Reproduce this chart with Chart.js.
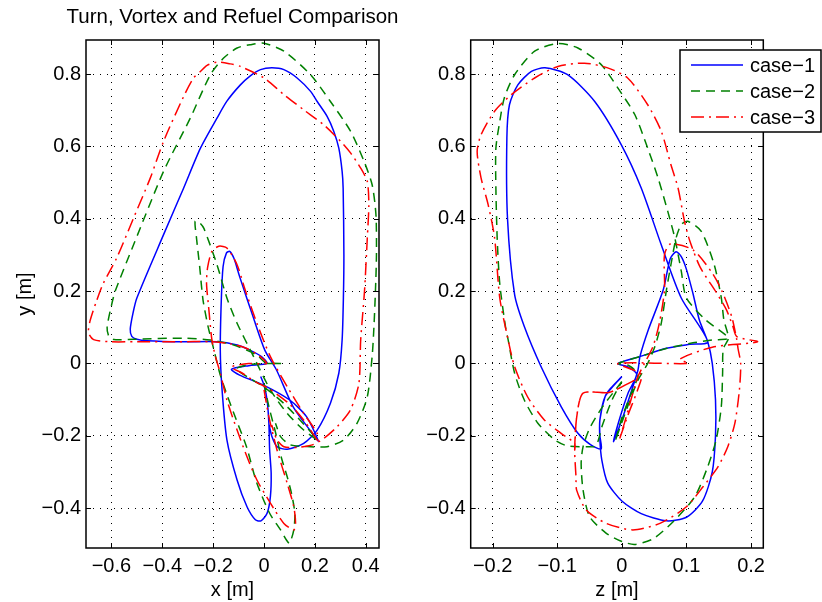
<!DOCTYPE html>
<html>
<head>
<meta charset="utf-8">
<script src="https://cdn.jsdelivr.net/npm/chart.js@4/dist/chart.umd.min.js"></script>
<style>
  html, body { margin: 0; padding: 0; background: #fff; }
  #wrap { position: relative; width: 822px; height: 602px; background: #fff; }
  canvas { position: absolute; top: 0; }
</style>
</head>
<body>
<div id="wrap">
  <canvas id="c1" width="465" height="602" style="left:0"></canvas>
  <canvas id="c2" width="411" height="602" style="left:411px"></canvas>
</div>
<script>
// ---------- tick labels ----------
const xTicks = [-0.6, -0.4, -0.2, 0, 0.2, 0.4];
const zTicks = [-0.2, -0.1, 0, 0.1, 0.2];
const yTicks = [-0.4, -0.2, 0, 0.2, 0.4, 0.6, 0.8];
const seriesNames = ['case\u22121', 'case\u22122', 'case\u22123'];

// ---------- case-1 : x-y panel ----------
const case1X = [-0.013,0.0,0.012,0.019,0.022,0.028,0.025,0.012,-0.012,-0.034,-0.067,-0.106,-0.146,-0.165,-0.172,-0.168,-0.161,-0.148,-0.135,-0.118,-0.096,-0.043,0.003,0.049,0.114,0.18,0.213,0.167,0.101,-0.004,-0.096,-0.128,-0.06,0.012,-0.01,-0.056,-0.106,-0.185,-0.316,-0.46,-0.5,-0.52,-0.526,-0.515,-0.5,-0.395,-0.316,-0.25,-0.185,-0.146,-0.093,-0.054,-0.014,0.031,0.078,0.13,0.183,0.209,0.248,0.274,0.294,0.307,0.311,0.314,0.312,0.307,0.294,0.261,0.209,0.156,0.091,0.051,0.031,0.02];
const case1Y = [-0.036,-0.06,-0.101,-0.165,-0.239,-0.303,-0.368,-0.414,-0.435,-0.432,-0.396,-0.322,-0.211,-0.073,0.037,0.176,0.268,0.305,0.31,0.29,0.24,0.129,0.037,-0.018,-0.119,-0.184,-0.214,-0.147,-0.101,-0.059,-0.032,-0.016,-0.006,0.0,0.019,0.037,0.051,0.06,0.06,0.063,0.067,0.075,0.095,0.14,0.181,0.356,0.485,0.595,0.678,0.725,0.77,0.795,0.812,0.817,0.812,0.789,0.752,0.724,0.683,0.642,0.595,0.531,0.485,0.3,0.181,0.065,-0.027,-0.11,-0.184,-0.221,-0.237,-0.23,-0.202,-0.17];
// ---------- case-1 : z-y panel ----------
const case1Z = [0.0,-0.018,-0.026,-0.034,-0.034,-0.031,-0.022,0.0,0.03,0.069,0.1,0.125,0.14,0.145,0.145,0.14,0.133,0.12,0.11,0.1,0.092,0.084,0.075,0.064,0.041,0.028,0.025,0.012,0.0,-0.013,-0.003,0.01,0.023,0.01,-0.006,0.028,0.069,0.105,0.133,0.092,0.061,0.03,-0.001,-0.042,-0.084,-0.119,-0.14,-0.161,-0.174,-0.178,-0.177,-0.166,-0.151,-0.125,-0.094,-0.068,-0.048,-0.032,-0.034,-0.034,-0.026,0.0];
const case1YZ = [-0.036,-0.07,-0.092,-0.156,-0.211,-0.267,-0.33,-0.38,-0.415,-0.435,-0.425,-0.38,-0.3,-0.2,-0.1,0.0,0.06,0.12,0.194,0.26,0.295,0.309,0.29,0.203,0.093,0.019,-0.018,-0.092,-0.156,-0.216,-0.15,-0.08,-0.03,-0.01,0.0,0.019,0.042,0.053,0.06,0.181,0.328,0.485,0.605,0.724,0.798,0.817,0.807,0.77,0.715,0.623,0.4,0.19,0.102,-0.009,-0.119,-0.193,-0.225,-0.236,-0.2,-0.156,-0.092,-0.036];

// ---------- case-2 : x-y panel ----------
const case2X = [0.0,0.019,0.045,0.068,0.091,0.108,0.121,0.117,0.1,0.088,0.065,0.022,-0.03,-0.069,-0.109,-0.148,-0.174,-0.2,-0.22,-0.24,-0.253,-0.266,-0.271,-0.255,-0.237,-0.185,-0.146,-0.106,-0.041,0.025,0.091,0.156,0.209,0.15,0.08,0.0,-0.07,-0.11,-0.05,0.068,0.005,-0.028,-0.119,-0.211,-0.316,-0.513,-0.59,-0.61,-0.617,-0.6,-0.585,-0.513,-0.395,-0.29,-0.211,-0.159,-0.106,-0.054,0.0,0.078,0.183,0.261,0.34,0.393,0.425,0.44,0.442,0.438,0.432,0.425,0.406,0.366,0.314,0.248,0.183,0.104,0.065,0.045];
const case2Y = [-0.055,-0.119,-0.19,-0.26,-0.313,-0.359,-0.414,-0.46,-0.497,-0.488,-0.46,-0.414,-0.327,-0.23,-0.156,-0.082,-0.027,0.046,0.102,0.176,0.267,0.35,0.393,0.39,0.374,0.273,0.181,0.111,0.019,-0.073,-0.138,-0.184,-0.211,-0.163,-0.112,-0.065,-0.035,-0.015,-0.002,0.0,0.003,0.023,0.051,0.065,0.07,0.067,0.066,0.075,0.1,0.16,0.2,0.328,0.531,0.678,0.798,0.844,0.872,0.881,0.885,0.863,0.798,0.724,0.642,0.559,0.494,0.411,0.3,0.2,0.1,0.019,-0.092,-0.165,-0.211,-0.23,-0.23,-0.225,-0.202,-0.165];
// ---------- case-2 : z-y panel ----------
const case2Z = [0.0,-0.03,-0.05,-0.06,-0.063,-0.06,-0.05,-0.025,0.0,0.02,0.048,0.079,0.113,0.133,0.146,0.154,0.156,0.157,0.165,0.158,0.154,0.143,0.123,0.102,0.092,0.084,0.076,0.069,0.061,0.051,0.04,0.025,0.009,-0.006,-0.01,0.0,0.015,0.025,0.01,-0.005,0.03,0.07,0.11,0.14,0.165,0.13,0.1,0.092,0.082,0.071,0.056,0.04,0.02,-0.006,-0.032,-0.068,-0.099,-0.135,-0.166,-0.182,-0.189,-0.195,-0.195,-0.193,-0.189,-0.18,-0.176,-0.166,-0.151,-0.13,-0.104,-0.084,-0.053,-0.04,-0.03,-0.015,0.0];
const case2YZ = [-0.05,-0.12,-0.18,-0.23,-0.276,-0.35,-0.423,-0.468,-0.492,-0.5,-0.485,-0.438,-0.368,-0.285,-0.211,-0.119,-0.027,0.04,0.07,0.12,0.181,0.273,0.365,0.393,0.384,0.347,0.273,0.203,0.111,0.046,0.0,-0.046,-0.119,-0.193,-0.215,-0.15,-0.08,-0.03,-0.005,0.0,0.02,0.042,0.057,0.065,0.07,0.12,0.181,0.255,0.347,0.421,0.513,0.595,0.688,0.761,0.826,0.872,0.884,0.863,0.798,0.734,0.669,0.595,0.485,0.347,0.22,0.1,0.065,-0.027,-0.101,-0.165,-0.211,-0.228,-0.23,-0.228,-0.17,-0.1,-0.05];

// ---------- case-3 : x-y panel ----------
const case3X = [0.0,0.019,0.051,0.091,0.117,0.124,0.117,0.078,0.025,-0.028,-0.067,-0.106,-0.146,-0.172,-0.191,-0.205,-0.218,-0.226,-0.222,-0.205,-0.178,-0.146,-0.106,-0.075,-0.028,0.025,0.091,0.156,0.209,0.21,0.16,0.1,0.02,-0.03,-0.09,-0.13,-0.06,0.01,-0.02,-0.07,-0.13,-0.2,-0.35,-0.5,-0.605,-0.67,-0.69,-0.685,-0.66,-0.633,-0.579,-0.513,-0.447,-0.395,-0.316,-0.277,-0.25,-0.224,-0.185,-0.132,-0.093,0.0,0.078,0.156,0.234,0.301,0.34,0.38,0.406,0.412,0.406,0.395,0.38,0.373,0.34,0.287,0.235,0.19,0.13,0.078,0.05,0.03];
const case3Y = [-0.073,-0.147,-0.239,-0.331,-0.396,-0.442,-0.46,-0.442,-0.386,-0.322,-0.258,-0.184,-0.101,-0.027,0.019,0.065,0.157,0.22,0.265,0.31,0.324,0.319,0.273,0.205,0.111,0.019,-0.064,-0.138,-0.193,-0.212,-0.16,-0.112,-0.07,-0.052,-0.025,-0.01,0.0,0.0,0.022,0.042,0.054,0.06,0.06,0.06,0.06,0.066,0.085,0.115,0.17,0.22,0.292,0.402,0.513,0.614,0.738,0.789,0.807,0.824,0.833,0.828,0.821,0.789,0.743,0.701,0.66,0.614,0.582,0.54,0.503,0.439,0.347,0.2,0.065,-0.055,-0.128,-0.175,-0.207,-0.225,-0.232,-0.23,-0.21,-0.17];
// ---------- case-3 : z-y panel ----------
const case3Z = [0.02,-0.02,-0.06,-0.07,-0.073,-0.071,-0.07,-0.055,-0.024,0.017,0.059,0.1,0.126,0.149,0.164,0.175,0.182,0.184,0.18,0.178,0.17,0.155,0.14,0.11,0.075,0.066,0.066,0.058,0.048,0.035,0.025,0.014,0.004,-0.004,0.01,0.025,0.03,-0.006,0.103,0.09,0.14,0.21,0.178,0.172,0.162,0.147,0.121,0.105,0.097,0.087,0.076,0.061,0.04,0.009,-0.022,-0.058,-0.099,-0.135,-0.171,-0.197,-0.218,-0.224,-0.218,-0.207,-0.197,-0.189,-0.176,-0.166,-0.146,-0.12,-0.094,-0.073,-0.073,-0.07,-0.06,-0.02,0.02];
const case3YZ = [-0.046,-0.08,-0.082,-0.15,-0.239,-0.313,-0.35,-0.405,-0.442,-0.46,-0.442,-0.396,-0.34,-0.285,-0.23,-0.165,-0.073,0.0,0.04,0.065,0.13,0.2,0.25,0.314,0.33,0.3,0.203,0.111,0.046,0.0,-0.036,-0.101,-0.165,-0.211,-0.14,-0.07,-0.03,0.0,0.0,0.012,0.045,0.06,0.074,0.102,0.148,0.194,0.267,0.34,0.393,0.485,0.549,0.642,0.715,0.789,0.817,0.83,0.821,0.789,0.743,0.697,0.632,0.586,0.513,0.439,0.347,0.181,0.065,-0.009,-0.092,-0.156,-0.193,-0.221,-0.239,-0.15,-0.082,-0.08,-0.046];

// ---------- helpers ----------
const FONT = '"Liberation Sans", Arial, Helvetica, sans-serif';
const styles = [
  { color: '#0000ff', dash: [], order: 3 },
  { color: '#008000', dash: [9, 6], order: 2 },
  { color: '#ff0000', dash: [13, 5, 2, 5], order: 1 }
];
function pts(xs, ys) { return xs.map((v, i) => ({ x: v, y: ys[i] })); }
function datasets(pairs) {
  return pairs.map((p, i) => ({
    label: seriesNames[i],
    data: pts(p[0], p[1]),
    showLine: true,
    borderColor: styles[i].color,
    backgroundColor: styles[i].color,
    borderDash: styles[i].dash,
    borderWidth: 1.5,
    pointRadius: 0,
    tension: 0.25,
    order: styles[i].order
  }));
}
const fmt = v => Math.abs(v) < 1e-9 ? '0' : (v < 0 ? '\u2212' : '') + Math.abs(v).toFixed(1);

const boxPlugin = {
  id: 'matlabBox',
  afterDatasetsDraw(chart) {
    const { ctx, chartArea: a, scales } = chart;
    ctx.save();
    ctx.setLineDash([]);
    ctx.strokeStyle = '#000';
    ctx.lineWidth = 1;
    const tl = 5;
    ctx.beginPath();
    scales.x.ticks.forEach(t => {
      const p = Math.round(scales.x.getPixelForValue(t.value)) + 0.5;
      ctx.moveTo(p, a.bottom); ctx.lineTo(p, a.bottom - tl);
      ctx.moveTo(p, a.top); ctx.lineTo(p, a.top + tl);
    });
    scales.y.ticks.forEach(t => {
      const p = Math.round(scales.y.getPixelForValue(t.value)) + 0.5;
      ctx.moveTo(a.left, p); ctx.lineTo(a.left + tl, p);
      ctx.moveTo(a.right, p); ctx.lineTo(a.right - tl, p);
    });
    ctx.stroke();
    ctx.lineWidth = 1.5;
    ctx.strokeRect(a.left, a.top, a.right - a.left, a.bottom - a.top);
    ctx.restore();
  }
};

const legendPlugin = {
  id: 'boxLegend',
  afterDraw(chart) {
    const ctx = chart.ctx;
    const L = 269, T = 50, W = 141, H = 82;
    ctx.save();
    ctx.fillStyle = '#fff';
    ctx.fillRect(L, T, W, H);
    ctx.setLineDash([]);
    ctx.strokeStyle = '#000';
    ctx.lineWidth = 1.5;
    ctx.strokeRect(L, T, W, H);
    chart.data.datasets.forEach((ds, i) => {
      const y = T + 15 + i * 26;
      ctx.strokeStyle = ds.borderColor;
      ctx.lineWidth = ds.borderWidth;
      ctx.setLineDash(ds.borderDash);
      ctx.beginPath();
      ctx.moveTo(L + 11, y);
      ctx.lineTo(L + 63, y);
      ctx.stroke();
      ctx.setLineDash([]);
      ctx.fillStyle = '#000';
      ctx.font = '20px ' + FONT;
      ctx.textBaseline = 'middle';
      ctx.textAlign = 'left';
      ctx.fillText(ds.label, L + 70, y + 1);
    });
    ctx.restore();
  }
};

function axisX(min, max, tickVals, title) {
  return {
    type: 'linear', min: min, max: max,
    afterBuildTicks: s => { s.ticks = tickVals.map(v => ({ value: v })); },
    afterFit: s => { s.height = 54; },
    ticks: { autoSkip: false, maxRotation: 0, padding: 6, color: '#000',
             font: { family: FONT, size: 20 }, callback: v => fmt(v) },
    grid: { color: '#000', lineWidth: 1, drawTicks: false },
    border: { display: false, dash: [1, 6] },
    title: { display: true, text: title, color: '#000',
             font: { family: FONT, size: 20 }, padding: { top: 0, bottom: 0 } }
  };
}
function axisY(width, title) {
  return {
    type: 'linear', min: -0.51, max: 0.894,
    afterBuildTicks: s => { s.ticks = yTicks.map(v => ({ value: v })); },
    afterFit: s => { s.width = width; },
    ticks: { autoSkip: false, padding: 5, color: '#000',
             font: { family: FONT, size: 20 }, callback: v => fmt(v) },
    grid: { color: '#000', lineWidth: 1, drawTicks: false },
    border: { display: false, dash: [1, 6] },
    title: { display: !!title, text: title || '', color: '#000',
             font: { family: FONT, size: 20 }, padding: { top: 13, bottom: 0 } }
  };
}
// empty right-hand spacer axis so the full-width title is centred over the plot
const spacerAxis = {
  type: 'linear', position: 'right', display: true,
  afterFit: s => { s.width = 86; },
  ticks: { display: false }, grid: { display: false }, border: { display: false },
  title: { display: false }
};

new Chart(document.getElementById('c1'), {
  type: 'scatter',
  data: { datasets: datasets([[case1X, case1Y], [case2X, case2Y], [case3X, case3Y]]) },
  options: {
    responsive: false, animation: false, events: [],
    layout: { padding: { left: 0, right: 0, top: 0, bottom: 0 } },
    plugins: {
      legend: { display: false }, tooltip: { enabled: false },
      title: { display: true, text: 'Turn, Vortex and Refuel Comparison',
               color: '#000', font: { family: FONT, size: 20.5, weight: 'normal' },
               padding: { top: 4.9, bottom: 10.5 } }
    },
    scales: { x: axisX(-0.7, 0.452, xTicks, 'x [m]'), y: axisY(86, 'y [m]'), spacer: spacerAxis }
  },
  plugins: [boxPlugin]
});

new Chart(document.getElementById('c2'), {
  type: 'scatter',
  data: { datasets: datasets([[case1Z, case1YZ], [case2Z, case2YZ], [case3Z, case3YZ]]) },
  options: {
    responsive: false, animation: false, events: [],
    layout: { padding: { left: 0, right: 58.7, top: 40, bottom: 0 } },
    plugins: { legend: { display: false }, tooltip: { enabled: false } },
    scales: { x: axisX(-0.234, 0.219, zTicks, 'z [m]'), y: axisY(59.7, null) }
  },
  plugins: [boxPlugin, legendPlugin]
});
</script>
</body>
</html>
